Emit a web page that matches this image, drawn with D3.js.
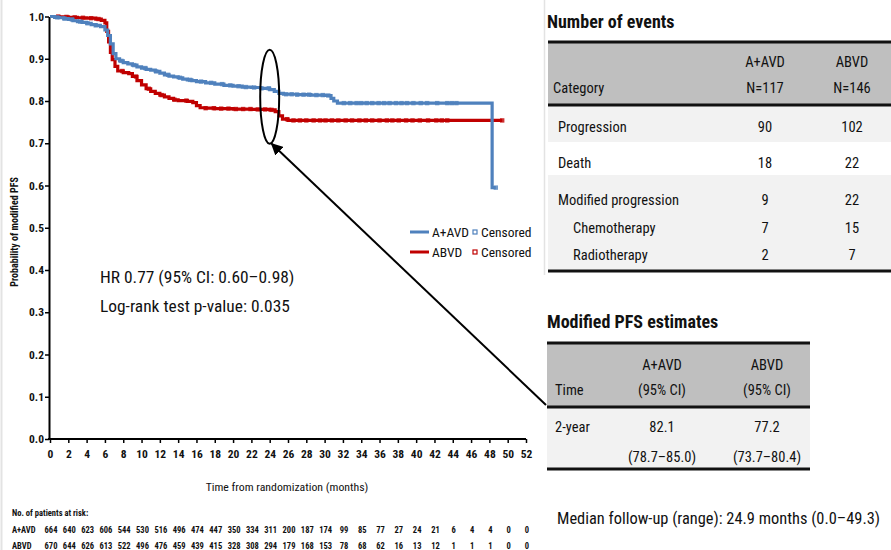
<!DOCTYPE html>
<html>
<head>
<meta charset="utf-8">
<script src="https://cdn.jsdelivr.net/npm/d3@7"></script>
<style>
  body { margin: 0; background: #fff; }
  svg { display: block; }
  text { font-family: 'Liberation Sans Narrow', 'Arial Narrow', 'Roboto Condensed', sans-serif; fill: #111; }
</style>
</head>
<body>
<svg id="chart" width="891" height="550"></svg>
<script>
// Kaplan-Meier estimates: [months, probability]
let aavdCurve = [[0,1.0],[0.5,0.998],[1,0.997],[1.5,0.995],[2,0.993],[2.5,0.99],[3,0.988],[3.5,0.986],[4,0.984],
  [4.5,0.981],[5,0.979],[5.5,0.976],[6,0.968],[6.3,0.955],[6.6,0.935],[6.9,0.912],[7.2,0.9],[7.6,0.895],[8,0.891],
  [8.5,0.888],[9,0.885],[9.5,0.881],[10,0.878],[10.5,0.875],[11,0.873],[11.5,0.87],[12,0.866],[12.5,0.862],
  [13,0.859],[13.5,0.857],[14,0.855],[14.5,0.852],[15,0.85],[15.5,0.848],[16,0.846],[17,0.843],[18,0.84],
  [19,0.837],[20,0.835],[21,0.833],[22,0.832],[23,0.83],[24,0.827],[24.5,0.823],[25,0.818],[25.5,0.816],
  [27,0.815],[28.5,0.814],[30,0.813],[30.7,0.806],[31,0.8],[31.4,0.795],[48.3,0.595],[48.7,0.595]];
let abvdCurve = [[0,1.0],[1,0.999],[2,0.998],[3,0.997],[4,0.996],[5,0.994],[5.6,0.991],[6,0.985],[6.2,0.965],
  [6.4,0.94],[6.6,0.915],[6.8,0.898],[7.1,0.882],[7.4,0.871],[8,0.867],[8.6,0.865],[9,0.858],[9.5,0.848],
  [10,0.838],[10.5,0.829],[11,0.823],[11.5,0.818],[12,0.814],[12.5,0.81],[13,0.806],[13.5,0.803],[14,0.801],
  [15,0.799],[15.6,0.796],[16,0.789],[16.4,0.784],[17,0.783],[18,0.782],[20,0.781],[22,0.78],[24,0.779],
  [24.6,0.775],[25,0.765],[25.4,0.757],[26,0.754],[49.4,0.754]];

// censoring times (months)
let aavdCensored = [0.8,1.6,2.4,3.3,4.1,5.0,7.8,9.2,10.4,11.6,12.9,14.2,15.3,16.5,17.6,18.8,19.7,20.6,21.4,
  22.3,23.1,23.9,25.8,26.4,27.0,27.7,28.3,29.1,29.8,30.4,32.1,32.8,33.5,34.0,34.6,35.2,35.9,36.5,37.1,37.8,
  38.4,39.0,39.7,40.5,41.2,42.3,43.4,43.9,44.4,48.7];
let abvdCensored = [0.9,1.8,2.7,3.6,4.5,5.3,7.9,9.4,10.8,12.2,13.6,14.9,17.0,17.9,18.7,19.5,20.3,21.1,21.9,
  22.7,23.5,24.2,25.9,26.6,27.3,28.0,28.8,29.5,30.1,30.8,31.5,32.3,33.0,33.8,34.5,35.2,36.0,36.8,37.4,38.1,
  38.9,39.6,40.4,41.3,42.2,42.8,43.4,49.4];

let xTicks = d3.range(0, 53, 2);
let yTicks = [0, 0.1, 0.2, 0.3, 0.4, 0.5, 0.6, 0.7, 0.8, 0.9, 1.0];

let riskAAVD = [664,640,623,606,544,530,516,496,474,447,350,334,311,200,187,174,99,85,77,27,24,21,6,4,4,0,0];
let riskABVD = [670,644,626,613,522,496,476,459,439,415,328,308,294,179,168,153,78,68,62,16,13,12,1,1,1,0,0];

let eventCategories = ['Progression', 'Death', 'Modified progression', 'Chemotherapy', 'Radiotherapy'];
let eventsAAVD = [90, 18, 9, 7, 2];
let eventsABVD = [102, 22, 22, 15, 7];

let pfsTimes = ['2-year'];
let pfsAAVD = ['82.1'];
let pfsAAVDci = ['(78.7–85.0)'];
let pfsABVD = ['77.2'];
let pfsABVDci = ['(73.7–80.4)'];

let colors = {aavd: '#4f81bd', abvd: '#c00000'};

let svg = d3.select('#chart');

// faint borders of the pasted panels
svg.append('line').attr('x1', 1.5).attr('x2', 1.5).attr('y1', 0).attr('y2', 550)
  .attr('stroke', '#e3e3e3').attr('stroke-width', 2);
svg.append('line').attr('x1', 544.5).attr('x2', 544.5).attr('y1', 0).attr('y2', 275)
  .attr('stroke', '#e3e3e3').attr('stroke-width', 1.5);

let x = d3.scaleLinear().domain([0, 52]).range([50, 526]);
let y = d3.scaleLinear().domain([0, 1]).range([439, 16.5]);

// axes
let xAxis = svg.append('g')
  .attr('transform', `translate(0,${y(0)})`)
  .call(d3.axisBottom(x).tickValues(xTicks).tickSizeInner(4).tickSizeOuter(0).tickPadding(7));
let yAxis = svg.append('g')
  .attr('transform', `translate(${x(0) - 1},0)`)
  .call(d3.axisLeft(y).tickValues(yTicks).tickFormat(d3.format('.1f')).tickSizeInner(4).tickSizeOuter(0).tickPadding(1));
[xAxis, yAxis].forEach(a => {
  a.select('.domain').attr('stroke', '#000').attr('stroke-width', 2);
  a.selectAll('.tick line').attr('stroke', '#000').attr('stroke-width', 1.5);
  a.selectAll('.tick text').attr('font-size', 11.5).attr('font-weight', 'bold')
    .style('font-family', "'Liberation Sans Narrow', 'Arial Narrow', 'Roboto Condensed', sans-serif").attr('fill', '#1a1a1a');
});
xAxis.select('.domain').attr('d', `M${x(0) - 2},0H${x(52)}`);

svg.append('text')
  .attr('x', 287).attr('y', 491)
  .attr('text-anchor', 'middle').attr('font-size', 11.8)
  .text('Time from randomization (months)');

svg.append('text')
  .attr('transform', `translate(18,${y(0.49)}) rotate(-90)`)
  .attr('text-anchor', 'middle').attr('font-size', 10).attr('font-weight', 'bold')
  .text('Probability of modified PFS');

// curves
let line = d3.line().x(d => x(d[0])).y(d => y(d[1])).curve(d3.curveStepAfter);

// survival at time t, for placing censor marks on the step curve
function survAt(curve, t) {
  let s = curve[0][1];
  for (let p of curve) { if (p[0] <= t) s = p[1]; }
  return s;
}

let series = [
  {key: 'abvd', curve: abvdCurve, censored: abvdCensored},
  {key: 'aavd', curve: aavdCurve, censored: aavdCensored}
];

series.forEach(s => {
  svg.append('path')
    .datum(s.curve)
    .attr('d', line)
    .attr('fill', 'none')
    .attr('stroke', colors[s.key])
    .attr('stroke-width', 3.2);
  svg.append('g').selectAll('rect')
    .data(s.censored)
    .enter()
    .append('rect')
    .attr('x', t => x(t) - 2.2)
    .attr('y', t => y(survAt(s.curve, t)) - 2.2)
    .attr('width', 4.4).attr('height', 4.4)
    .attr('fill', colors[s.key])
    .attr('opacity', 0.8);
});

// legend
let legend = svg.append('g').attr('transform', 'translate(410,232)');
[{key: 'aavd', label: 'A+AVD'}, {key: 'abvd', label: 'ABVD'}].forEach((d, i) => {
  let row = legend.append('g').attr('transform', `translate(0,${i * 20})`);
  row.append('line').attr('x1', 0).attr('x2', 19).attr('stroke', colors[d.key]).attr('stroke-width', 3);
  row.append('text').attr('x', 22).attr('y', 0).attr('dy', '0.35em').attr('font-size', 13.5).text(d.label);
  row.append('rect').attr('x', 63).attr('y', -2).attr('width', 4).attr('height', 4)
    .attr('fill', '#fff').attr('stroke', colors[d.key]).attr('stroke-width', 1.2);
  row.append('text').attr('x', 71).attr('y', 0).attr('dy', '0.35em').attr('font-size', 13.5).text('Censored');
});

// statistics
svg.append('text').attr('x', 100).attr('y', 283).attr('font-size', 17.4).text('HR 0.77 (95% CI: 0.60–0.98)');
svg.append('text').attr('x', 100).attr('y', 312).attr('font-size', 17.4).text('Log-rank test p-value: 0.035');

// ellipse at 24 months and arrow to the estimates table
svg.append('defs').append('marker')
  .attr('id', 'arrow').attr('viewBox', '0 0 10 10').attr('refX', 9).attr('refY', 5)
  .attr('markerWidth', 6).attr('markerHeight', 6).attr('orient', 'auto-start-reverse')
  .append('path').attr('d', 'M0,0L10,5L0,10z').attr('fill', '#000');
svg.append('ellipse')
  .attr('cx', x(24)).attr('cy', y(0.81)).attr('rx', 9.5).attr('ry', 47)
  .attr('fill', 'none').attr('stroke', '#000').attr('stroke-width', 2);
svg.append('line')
  .attr('x1', 546).attr('y1', 405).attr('x2', x(24) + 2).attr('y2', y(0.81) + 47)
  .attr('stroke', '#000').attr('stroke-width', 2).attr('marker-end', 'url(#arrow)');

// risk table
svg.append('text').attr('x', 12).attr('y', 516).attr('font-size', 8.5).attr('font-weight', 'bold')
  .text('No. of patients at risk:');
[{label: 'A+AVD', vals: riskAAVD, yy: 533}, {label: 'ABVD', vals: riskABVD, yy: 549}].forEach(r => {
  svg.append('text').attr('x', 12).attr('y', r.yy).attr('font-size', 8.5).attr('font-weight', 'bold').text(r.label);
  svg.append('g').selectAll('text')
    .data(r.vals)
    .enter()
    .append('text')
    .attr('x', (v, i) => x(xTicks[i]) + 1)
    .attr('y', r.yy)
    .attr('text-anchor', 'middle')
    .attr('font-size', 8.5).attr('font-weight', 'bold')
    .text(v => v);
});

// ---- Number of events table ----
let headGray = '#bfbfbf', rowGray = '#f2f2f2';
let fs = 14.5;
let t1 = svg.append('g');
t1.append('text').attr('x', 547).attr('y', 28).attr('font-size', 18).attr('font-weight', 'bold').text('Number of events');
t1.append('rect').attr('x', 548).attr('y', 42).attr('width', 343).attr('height', 63).attr('fill', headGray);
t1.append('rect').attr('x', 548).attr('y', 105).attr('width', 343).attr('height', 37).attr('fill', rowGray);
t1.append('rect').attr('x', 548).attr('y', 175).attr('width', 343).attr('height', 96).attr('fill', rowGray);
[42, 105, 271].forEach(yy => t1.append('line').attr('x1', 548).attr('x2', 891).attr('y1', yy).attr('y2', yy)
  .attr('stroke', '#111').attr('stroke-width', 3));
let c1 = 765, c2 = 852;
t1.append('text').attr('x', 553).attr('y', 88).attr('dy', '0.35em').attr('font-size', fs).text('Category');
[['A+AVD', 'N=117', c1], ['ABVD', 'N=146', c2]].forEach(h => {
  t1.append('text').attr('x', h[2]).attr('y', 62).attr('dy', '0.35em').attr('text-anchor', 'middle').attr('font-size', fs).text(h[0]);
  t1.append('text').attr('x', h[2]).attr('y', 88).attr('dy', '0.35em').attr('text-anchor', 'middle').attr('font-size', fs).text(h[1]);
});
let rowY = [127, 163, 200, 228, 255];
let indent = [0, 0, 0, 1, 1];
eventCategories.forEach((c, i) => {
  t1.append('text').attr('x', 558 + indent[i] * 15).attr('y', rowY[i]).attr('dy', '0.35em').attr('font-size', fs).text(c);
  t1.append('text').attr('x', c1).attr('y', rowY[i]).attr('dy', '0.35em').attr('text-anchor', 'middle').attr('font-size', fs).text(eventsAAVD[i]);
  t1.append('text').attr('x', c2).attr('y', rowY[i]).attr('dy', '0.35em').attr('text-anchor', 'middle').attr('font-size', fs).text(eventsABVD[i]);
});

// ---- Modified PFS estimates table ----
let t2 = svg.append('g');
t2.append('text').attr('x', 547).attr('y', 328).attr('font-size', 18).attr('font-weight', 'bold').text('Modified PFS estimates');
t2.append('rect').attr('x', 547).attr('y', 343).attr('width', 263).attr('height', 64).attr('fill', headGray);
t2.append('rect').attr('x', 547).attr('y', 407).attr('width', 263).attr('height', 62).attr('fill', rowGray);
[343, 407, 469].forEach(yy => t2.append('line').attr('x1', 547).attr('x2', 810).attr('y1', yy).attr('y2', yy)
  .attr('stroke', '#111').attr('stroke-width', 3));
let d1 = 662, d2 = 767;
t2.append('text').attr('x', 555).attr('y', 390).attr('dy', '0.35em').attr('font-size', fs).text('Time');
[['A+AVD', '(95% CI)', d1], ['ABVD', '(95% CI)', d2]].forEach(h => {
  t2.append('text').attr('x', h[2]).attr('y', 365).attr('dy', '0.35em').attr('text-anchor', 'middle').attr('font-size', fs).text(h[0]);
  t2.append('text').attr('x', h[2]).attr('y', 390).attr('dy', '0.35em').attr('text-anchor', 'middle').attr('font-size', fs).text(h[1]);
});
pfsTimes.forEach((t, i) => {
  t2.append('text').attr('x', 555).attr('y', 427).attr('dy', '0.35em').attr('font-size', fs).text(t);
  t2.append('text').attr('x', d1).attr('y', 427).attr('dy', '0.35em').attr('text-anchor', 'middle').attr('font-size', fs).text(pfsAAVD[i]);
  t2.append('text').attr('x', d1).attr('y', 457).attr('dy', '0.35em').attr('text-anchor', 'middle').attr('font-size', fs).text(pfsAAVDci[i]);
  t2.append('text').attr('x', d2).attr('y', 427).attr('dy', '0.35em').attr('text-anchor', 'middle').attr('font-size', fs).text(pfsABVD[i]);
  t2.append('text').attr('x', d2).attr('y', 457).attr('dy', '0.35em').attr('text-anchor', 'middle').attr('font-size', fs).text(pfsABVDci[i]);
});

svg.append('text').attr('x', 557).attr('y', 518).attr('dy', '0.35em').attr('font-size', 16.4)
  .text('Median follow-up (range): 24.9 months (0.0–49.3)');
</script>
</body>
</html>
